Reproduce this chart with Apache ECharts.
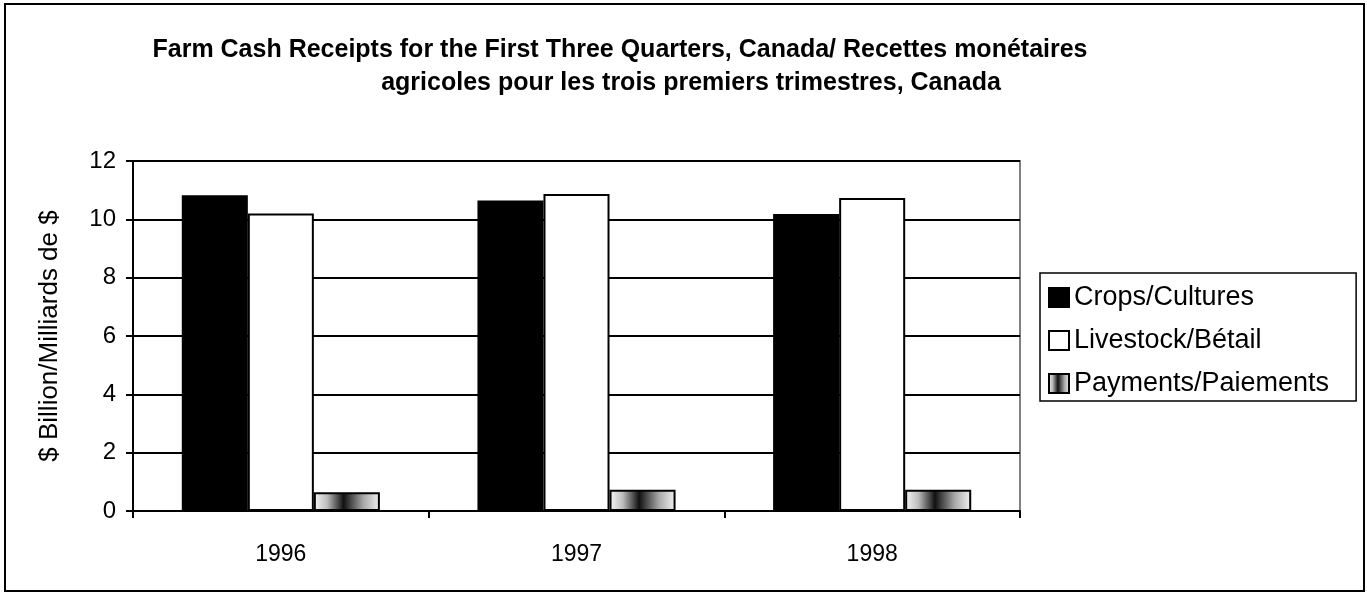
<!DOCTYPE html>
<html>
<head>
<meta charset="utf-8">
<script src="https://cdn.jsdelivr.net/npm/echarts@6/dist/echarts.min.js"></script>
<style>
html,body{margin:0;padding:0;background:#fff;}
#chart{width:1367px;height:594px;}
</style>
</head>
<body>
<div id="chart"></div>
<script>
const titleLine1 = "Farm Cash Receipts for the First Three Quarters, Canada/ Recettes monétaires";
const titleLine2 = "agricoles pour les trois premiers trimestres, Canada";
const yAxisName = "$ Billion/Milliards de $";
const categories = ["1996", "1997", "1998"];
const seriesNames = ["Crops/Cultures", "Livestock/Bétail", "Payments/Paiements"];
const crops = [10.83, 10.65, 10.18];
const livestock = [10.2, 10.87, 10.73];
const payments = [0.64, 0.73, 0.73];

const FONT = "'Liberation Sans', Arial, sans-serif";
const chart = echarts.init(document.getElementById('chart'), null, {renderer: 'canvas'});

const payGradient = new echarts.graphic.LinearGradient(0, 0, 1, 0, [
  {offset: 0, color: '#f6f6f6'},
  {offset: 0.2, color: '#bdbdbd'},
  {offset: 0.45, color: '#111111'},
  {offset: 0.5, color: '#2a2a2a'},
  {offset: 0.75, color: '#a8a8a8'},
  {offset: 1, color: '#f4f4f4'}
]);

const option = {
  backgroundColor: '#ffffff',
  animation: false,
  title: [
    {text: titleLine1, left: 615, top: 33, textAlign: 'center',
     textStyle: {fontFamily: FONT, fontSize: 25, fontWeight: 'bold', color: '#000'}},
    {text: titleLine2, left: 686, top: 66, textAlign: 'center',
     textStyle: {fontFamily: FONT, fontSize: 25, fontWeight: 'bold', color: '#000'}}
  ],
  graphic: [{
    type: 'rect', z: -1,
    shape: {x: 5, y: 4, width: 1359, height: 587},
    style: {fill: 'none', stroke: '#000', lineWidth: 2}
  }],
  legend: {
    orient: 'vertical',
    left: 1040, top: 273,
    itemWidth: 20, itemHeight: 19, itemGap: 16,
    padding: [11, 27, 4, 8],
    borderColor: '#000', borderWidth: 1.5,
    icon: 'rect',
    textStyle: {fontFamily: FONT, fontSize: 27, color: '#000', padding: [0, 0, 0, 0]},
    data: seriesNames
  },
  grid: {
    left: 133, top: 161, right: 347, bottom: 83,
    show: true, borderColor: '#808080', borderWidth: 2, backgroundColor: 'transparent'
  },
  xAxis: {
    type: 'category',
    data: categories,
    axisLine: {lineStyle: {color: '#000', width: 2}},
    axisTick: {show: true, length: 7, lineStyle: {color: '#000', width: 2}},
    axisLabel: {fontFamily: FONT, fontSize: 23, color: '#000', margin: 32}
  },
  yAxis: {
    type: 'value',
    min: 0, max: 12, interval: 2,
    name: yAxisName,
    nameLocation: 'middle',
    nameGap: 70,
    nameRotate: 90,
    nameTextStyle: {fontFamily: FONT, fontSize: 26, color: '#000'},
    axisLine: {show: true, lineStyle: {color: '#000', width: 2}},
    axisTick: {show: true, length: 7, lineStyle: {color: '#000', width: 2}},
    axisLabel: {fontFamily: FONT, fontSize: 24, color: '#000', margin: 17},
    splitLine: {show: true, lineStyle: {color: '#000', width: 2}}
  },
  series: [
    {name: seriesNames[0], type: 'bar', data: crops, barGap: '0%', barCategoryGap: '33%',
     itemStyle: {color: '#000', borderColor: '#000', borderWidth: 1.5}},
    {name: seriesNames[1], type: 'bar', data: livestock,
     itemStyle: {color: '#fff', borderColor: '#000', borderWidth: 2}},
    {name: seriesNames[2], type: 'bar', data: payments,
     itemStyle: {color: payGradient, borderColor: '#000', borderWidth: 2}}
  ]
};
chart.setOption(option);
</script>
</body>
</html>
